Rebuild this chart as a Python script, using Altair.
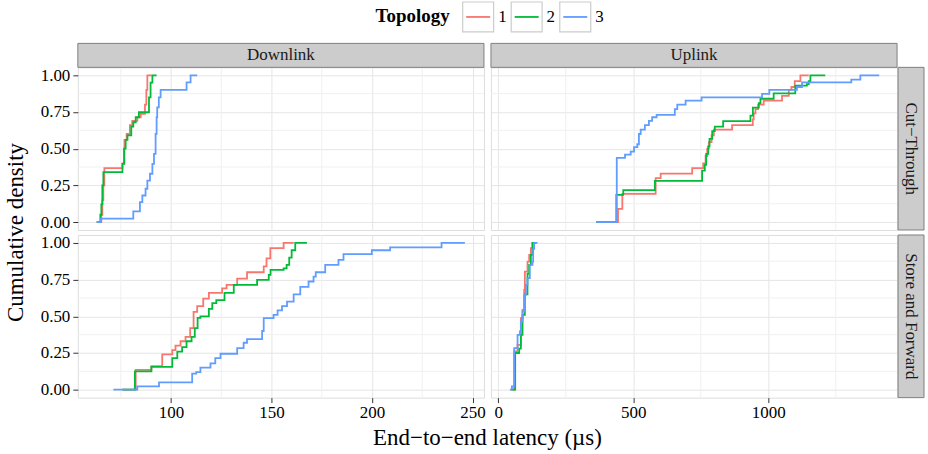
import altair as alt
import pandas as pd

FONT = "Liberation Serif"
TOPOLOGIES = ["1", "2", "3"]
TOPO_COLORS = ["#F8766D", "#00BA38", "#619CFF"]
DIRECTIONS = ["Downlink", "Uplink"]
MODES = ["Cut\u2212Through", "Store and Forward"]
Y_LABEL = "Cumulative density"
X_LABEL = "End\u2212to\u2212end latency (\u00b5s)"
LEGEND_TITLE = "Topology"

# ---- Cut-Through / Downlink (latency in us, cumulative density after step)
ct_dl_t1_x = [63.0, 65.3, 65.8, 66.3, 66.8, 75.8, 76.8, 77.9, 79.5, 80.7, 83.2, 84.9, 87.0, 87.7, 88.2, 90.3]
ct_dl_t1_y = [0.0, 0.05, 0.15, 0.25, 0.367, 0.40, 0.56, 0.60, 0.66, 0.69, 0.714, 0.737, 0.80, 0.90, 1.0, 1.0]
ct_dl_t2_x = [63.0, 64.8, 65.3, 65.8, 66.3, 75.8, 76.6, 77.4, 78.3, 80.2, 81.2, 82.4, 84.0, 89.0, 89.8, 90.7, 92.8]
ct_dl_t2_y = [0.0, 0.05, 0.12, 0.25, 0.34, 0.397, 0.50, 0.56, 0.59, 0.65, 0.68, 0.714, 0.748, 0.85, 0.95, 1.0, 1.0]
ct_dl_t3_x = [63.0, 65.0, 81.2, 84.5, 85.7, 87.3, 88.2, 89.5, 90.7, 91.5, 92.3, 92.8, 93.1, 93.9, 94.8, 107.7, 109.7, 113.0]
ct_dl_t3_y = [0.0, 0.023, 0.073, 0.136, 0.181, 0.227, 0.283, 0.329, 0.397, 0.465, 0.601, 0.714, 0.782, 0.85, 0.90, 0.952, 1.0, 1.0]

# ---- Cut-Through / Uplink
ct_ul_t1_x = [363, 443.6, 459.6, 583, 601.5, 718.3, 759, 768, 774, 780, 790, 798.5, 866, 942.7, 946, 952.6, 962.5, 983, 1051, 1076, 1085.6, 1098, 1119, 1150]
ct_ul_t1_y = [0.0, 0.09, 0.192, 0.30, 0.33, 0.367, 0.40, 0.45, 0.50, 0.545, 0.59, 0.63, 0.66, 0.70, 0.74, 0.77, 0.80, 0.827, 0.86, 0.90, 0.92, 0.96, 1.0, 1.0]
ct_ul_t2_x = [363, 437.3, 463, 580, 755, 765, 770, 777.5, 782.5, 792.4, 802, 833, 934, 943, 965, 971, 1020, 1100, 1143, 1150, 1156, 1211]
ct_ul_t2_y = [0.0, 0.185, 0.218, 0.28, 0.35, 0.39, 0.465, 0.515, 0.567, 0.62, 0.65, 0.687, 0.725, 0.78, 0.81, 0.84, 0.877, 0.93, 0.94, 0.96, 1.0, 1.0]
ct_ul_t3_x = [363, 439, 469.5, 490.5, 503, 515, 521, 527.5, 543, 558, 570, 586.6, 654, 663, 694, 753, 977, 1004, 1106, 1125, 1307.5, 1341, 1411]
ct_ul_t3_y = [0.0, 0.437, 0.46, 0.48, 0.51, 0.53, 0.60, 0.63, 0.66, 0.69, 0.714, 0.73, 0.77, 0.80, 0.827, 0.85, 0.873, 0.90, 0.92, 0.952, 0.97, 1.0, 1.0]

# ---- Store and Forward / Downlink
sf_dl_t1_x = [75.8, 82.4, 90.2, 95.6, 100.6, 102.2, 104.7, 107.2, 109.5, 111.2, 113.0, 116.0, 118.8, 125.4, 127.6, 132.9, 137.8, 146.1, 147.5, 149.4, 156.0, 161.0]
sf_dl_t1_y = [0.0, 0.135, 0.16, 0.24, 0.27, 0.30, 0.33, 0.36, 0.42, 0.53, 0.57, 0.62, 0.66, 0.69, 0.714, 0.757, 0.80, 0.84, 0.895, 0.964, 1.0, 1.0]
sf_dl_t2_x = [75.8, 82.0, 90.2, 100.6, 103.1, 105.5, 107.7, 110.2, 111.8, 113.2, 114.6, 118.8, 120.5, 122.5, 126.6, 131.2, 142.8, 148.6, 149.5, 156.0, 157.5, 158.8, 160.0, 161.8, 167.6]
sf_dl_t2_y = [0.0, 0.125, 0.155, 0.215, 0.26, 0.29, 0.33, 0.36, 0.42, 0.49, 0.50, 0.55, 0.59, 0.61, 0.66, 0.714, 0.748, 0.782, 0.816, 0.827, 0.85, 0.90, 0.95, 1.0, 1.0]
sf_dl_t3_x = [71.3, 83.2, 94.0, 110.5, 112.5, 114.6, 119.6, 122.0, 124.6, 132.9, 136.1, 137.8, 145.3, 146.1, 151.0, 153.0, 155.2, 157.7, 161.0, 164.3, 168.4, 170.9, 172.0, 176.7, 183.3, 185.8, 199.9, 209.0, 234.6, 246.2]
sf_dl_t3_y = [0.0, 0.023, 0.05, 0.11, 0.12, 0.15, 0.18, 0.215, 0.245, 0.283, 0.32, 0.345, 0.40, 0.488, 0.51, 0.54, 0.57, 0.60, 0.65, 0.70, 0.737, 0.77, 0.80, 0.85, 0.884, 0.923, 0.95, 0.97, 1.0, 1.0]

# ---- Store and Forward / Uplink
sf_ul_t1_x = [46.8, 59.1, 71.5, 83.8, 90.0, 96.1, 98.6, 108.4, 114.6, 120.8, 126.9, 139.2]
sf_ul_t1_y = [0.0, 0.261, 0.306, 0.488, 0.544, 0.68, 0.805, 0.873, 0.918, 0.964, 1.0, 1.0]
sf_ul_t2_x = [50.0, 62.8, 77.6, 83.8, 90.0, 98.6, 108.4, 114.6, 120.8, 126.9, 136.8]
sf_ul_t2_y = [0.0, 0.25, 0.28, 0.374, 0.51, 0.65, 0.79, 0.85, 0.918, 1.0, 1.0]
sf_ul_t3_x = [43.1, 50.5, 59.1, 71.5, 80.1, 83.8, 90.0, 96.1, 102.3, 108.4, 117.0, 126.9, 129.4, 133.1, 145.4]
sf_ul_t3_y = [0.0, 0.023, 0.283, 0.374, 0.397, 0.465, 0.533, 0.646, 0.714, 0.76, 0.85, 0.873, 0.96, 1.0, 1.0]

SERIES = {
    (MODES[0], "Downlink"): [(ct_dl_t1_x, ct_dl_t1_y), (ct_dl_t2_x, ct_dl_t2_y), (ct_dl_t3_x, ct_dl_t3_y)],
    (MODES[0], "Uplink"): [(ct_ul_t1_x, ct_ul_t1_y), (ct_ul_t2_x, ct_ul_t2_y), (ct_ul_t3_x, ct_ul_t3_y)],
    (MODES[1], "Downlink"): [(sf_dl_t1_x, sf_dl_t1_y), (sf_dl_t2_x, sf_dl_t2_y), (sf_dl_t3_x, sf_dl_t3_y)],
    (MODES[1], "Uplink"): [(sf_ul_t1_x, sf_ul_t1_y), (sf_ul_t2_x, sf_ul_t2_y), (sf_ul_t3_x, sf_ul_t3_y)],
}

rows = []
for (mode, direction), lst in SERIES.items():
    for topo, (xs, ys) in zip(TOPOLOGIES, lst):
        assert len(xs) == len(ys), (mode, direction, topo)
        for i, (a, b) in enumerate(zip(xs, ys)):
            rows.append(dict(mode=mode, direction=direction, topology=topo, idx=i, latency=a, cdf=b))
df = pd.DataFrame(rows)

X_DOMAIN = {"Downlink": [53.6, 255.7], "Uplink": [-27.0, 1477.0]}
X_BREAKS = {"Downlink": [100, 150, 200, 250], "Uplink": [0, 500, 1000]}
X_MINOR = {"Downlink": [75, 125, 175, 225], "Uplink": [250, 750, 1250]}
Y_BREAKS = [0, 0.25, 0.5, 0.75, 1.0]
Y_MINOR = [0.125, 0.375, 0.625, 0.875]

W, H = 407, 163
STRIP = 24
FS = 17
STRIP_FILL = "#CCCCCC"
BORDER = "#7F7F7F"


def dummy():
    return pd.DataFrame({"k": [0]})


def panel(mode, direction, show_x, show_y, col_strip, row_strip, extras):
    d = df[(df["mode"] == mode) & (df["direction"] == direction)]
    x_axis = alt.Axis(values=X_BREAKS[direction], grid=True, gridColor="#E5E5E5", gridWidth=1, format="d",
                      domain=False, labels=show_x, ticks=show_x, tickSize=5, tickColor="#333333",
                      labelFont=FONT, labelFontSize=FS, labelColor="black", labelPadding=2,
                      labelFlush=False, labelOverlap=False, title=None)
    y_axis = alt.Axis(values=Y_BREAKS, grid=True, gridColor="#E5E5E5", gridWidth=1, format=".2f",
                      domain=False, labels=show_y, ticks=show_y, tickSize=5, tickColor="#333333",
                      labelFont=FONT, labelFontSize=FS, labelColor="black", labelPadding=3,
                      labelFlush=False, labelOverlap=False, title=None)
    xs = alt.Scale(domain=X_DOMAIN[direction], nice=False, zero=False)
    ys = alt.Scale(domain=[-0.054, 1.054], nice=False, zero=False)
    x_enc = alt.X("latency:Q", scale=xs, axis=x_axis)
    y_enc = alt.Y("cdf:Q", scale=ys, axis=y_axis)

    minor_x = alt.Chart(pd.DataFrame({"latency": X_MINOR[direction]})).mark_rule(
        color="#F0F0F0", strokeWidth=1).encode(x=x_enc)
    minor_y = alt.Chart(pd.DataFrame({"cdf": Y_MINOR})).mark_rule(
        color="#F0F0F0", strokeWidth=1).encode(y=y_enc)
    lines = alt.Chart(d).mark_line(interpolate="step-after", strokeWidth=1.8, clip=True).encode(
        x=x_enc, y=y_enc,
        color=alt.Color("topology:N", scale=alt.Scale(domain=TOPOLOGIES, range=TOPO_COLORS), legend=None),
        order="idx:Q",
    )
    layers = [minor_x, minor_y, lines]
    if col_strip:
        layers.append(alt.Chart(dummy()).mark_rect(fill=STRIP_FILL, stroke=BORDER, strokeWidth=1).encode(
            x=alt.value(0), x2=alt.value(W), y=alt.value(-STRIP), y2=alt.value(0)))
        layers.append(alt.Chart(dummy()).mark_text(text=direction, font=FONT, fontSize=FS, color="#1A1A1A",
                                                   align="center", baseline="middle").encode(
            x=alt.value(W / 2), y=alt.value(-STRIP / 2)))
    if row_strip:
        layers.append(alt.Chart(dummy()).mark_rect(fill=STRIP_FILL, stroke=BORDER, strokeWidth=1).encode(
            x=alt.value(W + 1), x2=alt.value(W + 27), y=alt.value(0), y2=alt.value(H)))
        layers.append(alt.Chart(dummy()).mark_text(text=mode, font=FONT, fontSize=FS, color="#1A1A1A",
                                                   align="center", baseline="middle", angle=90).encode(
            x=alt.value(W + 14), y=alt.value(H / 2)))
    layers.extend(extras)
    return alt.layer(*layers).properties(width=W, height=H)


# legend drawn above the top-left panel
legend_layers = [
    alt.Chart(dummy()).mark_text(text=LEGEND_TITLE, font=FONT, fontSize=19, fontWeight="bold",
                                 align="center", baseline="middle", color="black").encode(
        x=alt.value(335.5), y=alt.value(-51))
]
box_x0 = [385.7, 434.3, 483.0]
for topo, col, bx in zip(TOPOLOGIES, TOPO_COLORS, box_x0):
    legend_layers.append(alt.Chart(dummy()).mark_rect(fill="white", stroke="#CCCCCC", strokeWidth=1.2).encode(
        x=alt.value(bx), x2=alt.value(bx + 31), y=alt.value(-65.5), y2=alt.value(-35.5)))
    legend_layers.append(alt.Chart(dummy()).mark_rule(color=col, strokeWidth=1.8).encode(
        x=alt.value(bx + 3.5), x2=alt.value(bx + 27.5), y=alt.value(-50.5)))
    legend_layers.append(alt.Chart(dummy()).mark_text(text=topo, font=FONT, fontSize=FS, color="black",
                                                      align="left", baseline="middle").encode(
        x=alt.value(bx + 35.5), y=alt.value(-50.5)))

y_title = alt.Chart(dummy()).mark_text(text=Y_LABEL, font=FONT, fontSize=23, color="black", angle=270,
                                       align="center", baseline="middle").encode(
    x=alt.value(-62), y=alt.value(H + 2.5))
x_title = alt.Chart(dummy()).mark_text(text=X_LABEL, font=FONT, fontSize=23, color="black",
                                       align="center", baseline="middle").encode(
    x=alt.value(410.5), y=alt.value(203))

TL = panel(MODES[0], "Downlink", False, True, True, False, legend_layers + [y_title])
TR = panel(MODES[0], "Uplink", False, False, True, True, [])
BL = panel(MODES[1], "Downlink", True, True, False, False, [x_title])
BR = panel(MODES[1], "Uplink", True, False, False, True, [])

chart = alt.concat(TL, TR, BL, BR, columns=2, spacing=alt.RowColnumber(row=5, column=7),
                   bounds="flush").properties(
    padding={"left": 4, "top": 0, "right": 3, "bottom": 5}
).configure_view(stroke=BORDER, strokeWidth=1).configure(background="white")

chart.save("out.html", embed_options={"renderer": "svg", "actions": False})
